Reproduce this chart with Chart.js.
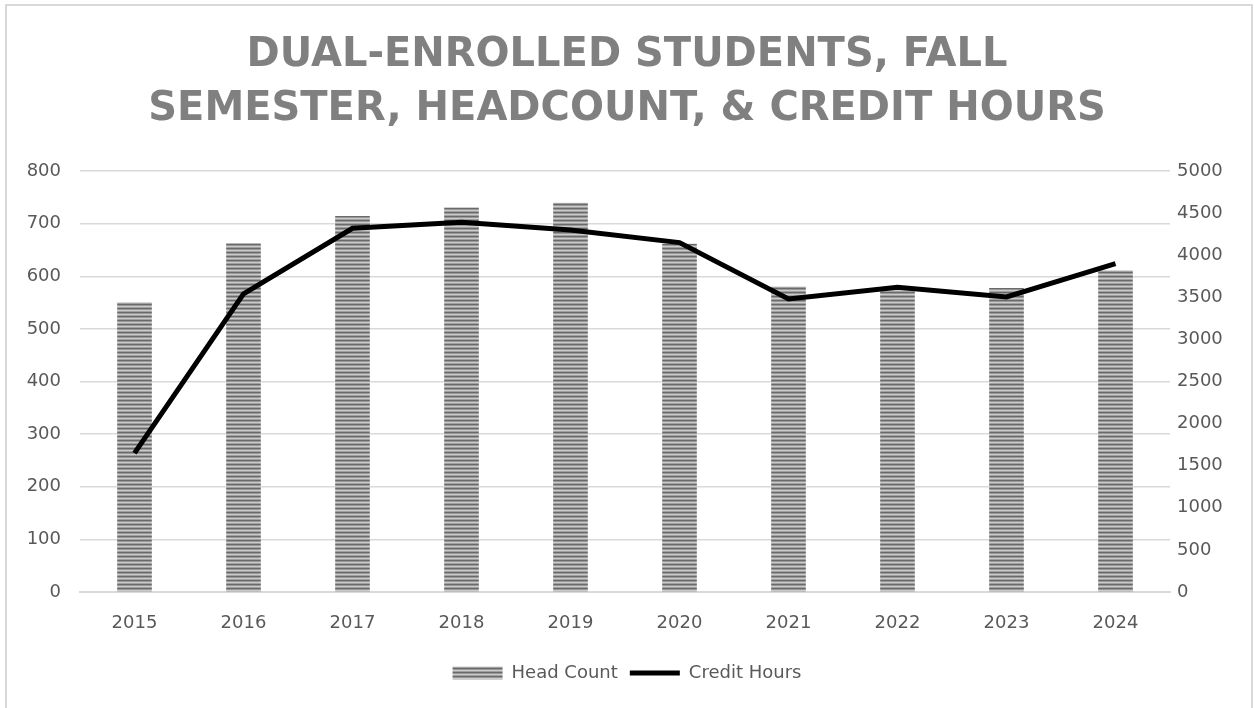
<!DOCTYPE html>
<html>
<head>
<meta charset="utf-8">
<script src="https://cdn.jsdelivr.net/npm/chart.js@4/dist/chart.umd.min.js"></script>
<style>
  html, body { margin: 0; padding: 0; background: #ffffff; overflow: hidden; }
  #wrap { position: relative; width: 1254px; height: 708px; }
  #frame { position: absolute; left: 5px; top: 4px; width: 1244px; height: 720px; border: 2px solid #d9d9d9; pointer-events: none; }
</style>
</head>
<body>
<div id="wrap">
  <canvas id="c" width="1254" height="708"></canvas>
  <div id="frame"></div>
</div>
<script>
const years = ['2015','2016','2017','2018','2019','2020','2021','2022','2023','2024'];
const headCount = [550, 662, 714, 730, 739, 661, 580, 576, 577, 611];
const creditHours = [1650, 3540, 4320, 4390, 4300, 4150, 3480, 3620, 3505, 3900];
const titleLines = ['DUAL-ENROLLED STUDENTS, FALL', 'SEMESTER, HEADCOUNT, & CREDIT HOURS'];
const leftTicks = [0, 100, 200, 300, 400, 500, 600, 700, 800];
const rightTicks = [0, 500, 1000, 1500, 2000, 2500, 3000, 3500, 4000, 4500, 5000];

function makeStripe() {
  const p = document.createElement('canvas');
  p.width = 4; p.height = 4;
  const g = p.getContext('2d');
  const rows = ['#6a6a6a', '#989898', '#cbcbcb', '#a0a0a0'];
  rows.forEach((c, i) => { g.fillStyle = c; g.fillRect(0, i, 4, 1); });
  return g.createPattern(p, 'repeat');
}
const stripe = makeStripe();

const tickFont = { family: 'DejaVu Sans', size: 18 };
const tickColor = '#595959';

new Chart(document.getElementById('c'), {
  data: {
    labels: years,
    datasets: [
      {
        type: 'line', label: 'Credit Hours', data: creditHours, yAxisID: 'y1',
        borderColor: '#000000', backgroundColor: '#000000', borderWidth: 5,
        pointRadius: 0, tension: 0, order: 0
      },
      {
        type: 'bar', label: 'Head Count', data: headCount, yAxisID: 'y',
        backgroundColor: stripe, borderWidth: 0, barThickness: 34, order: 1
      }
    ]
  },
  options: {
    responsive: false,
    animation: false,
    layout: { padding: { left: 20, right: 20, top: 0, bottom: 16 } },
    plugins: {
      title: {
        display: true, text: titleLines, color: '#808080',
        font: { family: 'DejaVu Sans', size: 40, weight: 'bold', lineHeight: 1.35 },
        padding: { top: 29, bottom: 34 }
      },
      legend: {
        position: 'bottom',
        reverse: true,
        labels: {
          usePointStyle: true, pointStyleWidth: 50, boxHeight: 13,
          color: tickColor, font: { family: 'DejaVu Sans', size: 18 }, padding: 12,
          generateLabels: (chart) => chart.data.datasets.map((ds, i) => ({
            text: ds.label,
            datasetIndex: i,
            fillStyle: ds.type === 'bar' ? stripe : '#000000',
            strokeStyle: ds.type === 'bar' ? 'rgba(0,0,0,0)' : '#000000',
            lineWidth: ds.type === 'bar' ? 0 : 5,
            pointStyle: ds.type === 'bar' ? 'rect' : 'line',
            fontColor: tickColor,
            hidden: false
          }))
        }
      },
      tooltip: { enabled: false }
    },
    scales: {
      x: {
        grid: { display: false, drawTicks: false },
        border: { display: true, color: '#d9d9d9', width: 2 },
        ticks: { color: tickColor, font: tickFont, padding: 21 },
        afterFit: (s) => { s.height = 60; }
      },
      y: {
        position: 'left', min: 0, max: 800,
        afterBuildTicks: (s) => { s.ticks = leftTicks.map(v => ({ value: v })); },
        grid: { color: '#d9d9d9', lineWidth: 1.5, drawTicks: false },
        border: { display: false },
        ticks: { color: tickColor, font: tickFont, padding: 19, callback: (v) => String(v) },
        afterFit: (s) => { s.width = 60; }
      },
      y1: {
        position: 'right', min: 0, max: 5000,
        afterBuildTicks: (s) => { s.ticks = rightTicks.map(v => ({ value: v })); },
        grid: { display: false, drawTicks: false },
        border: { display: false },
        ticks: { color: tickColor, font: tickFont, padding: 7, callback: (v) => String(v) },
        afterFit: (s) => { s.width = 64; }
      }
    }
  }
});
</script>
</body>
</html>
